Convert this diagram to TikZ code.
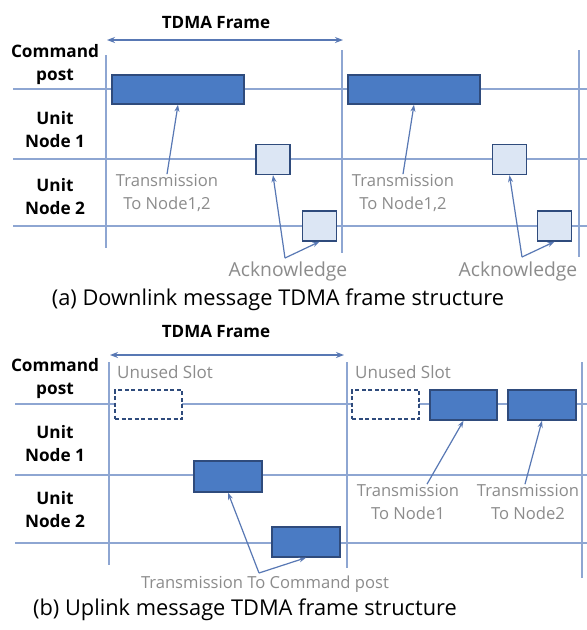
\documentclass[tikz,border=0pt]{standalone}
\usepackage{fontspec}
\setmainfont{Open Sans}
\usetikzlibrary{arrows.meta}
\definecolor{blkfill}{HTML}{4A7BC4}
\definecolor{blkdraw}{HTML}{2F4B7C}
\definecolor{sqfill}{HTML}{DCE6F4}
\definecolor{gridc}{HTML}{8EA6D2}
\definecolor{arrc}{HTML}{5878B4}
\definecolor{graytxt}{HTML}{8C8C8C}
\tikzset{
  blk/.style={draw=blkdraw, fill=blkfill, line width=1.4pt, inner sep=0pt},
  sqr/.style={draw=blkdraw, fill=sqfill, line width=1.4pt, inner sep=0pt, minimum width=34pt, minimum height=30pt},
  unused/.style={draw=blkdraw, fill=white, line width=1.3pt, dash pattern=on 4pt off 2.5pt, inner sep=0pt, minimum width=67pt, minimum height=29pt},
  rowlab/.style={font=\bfseries\fontsize{17.2}{23}\selectfont, align=center, inner sep=0pt},
  frlab/.style={font=\bfseries\fontsize{17}{20}\selectfont, inner sep=0pt},
  gtxt/.style={text=graytxt, font=\fontsize{16.6}{23}\selectfont, align=center, inner sep=0pt},
  gtxtu/.style={text=graytxt, font=\fontsize{17}{23}\selectfont, inner sep=0pt},
  ack/.style={text=graytxt, font=\fontsize{19.3}{22}\selectfont, inner sep=0pt},
  captxt/.style={font=\fontsize{21.8}{24}\selectfont, inner sep=0pt},
  gridl/.style={draw=gridc, line width=1.1pt},
  ptr/.style={draw=arrc, line width=1.2pt, -{Stealth[length=7pt,width=5pt]}},
  frarr/.style={draw=arrc, line width=1.3pt, {Stealth[length=8pt,width=6pt]}-{Stealth[length=8pt,width=6pt]}},
}
\begin{document}
\begin{tikzpicture}[x=1pt,y=-1pt]
\useasboundingbox[fill=white] (0,0) rectangle (587,630);

% ================= Panel (a) =================
\draw[gridl] (13,89) -- (587,89);
\draw[gridl] (13,159) -- (587,159);
\draw[gridl] (13,226) -- (587,226);
\draw[gridl] (106,55) -- (106,248);
\draw[gridl] (342,50) -- (342,253);
\draw[gridl] (579,50) -- (579,257);

\node[frlab] (tfa) at (216,22) {TDMA Frame};
\coordinate (fal) at (107,40);
\coordinate (far) at (343,40);
\draw[frarr] (fal) -- (far);

\node[rowlab] (cpa) at (55,65) {Command\\post};
\node[rowlab] (u1a) at (55,130) {Unit\\Node 1};
\node[rowlab] (u2a) at (55,197) {Unit\\Node 2};

\node[blk, minimum width=132pt, minimum height=29pt] (b1) at (178,89.5) {};
\node[blk, minimum width=132pt, minimum height=29pt] (b2) at (414,89.5) {};

\node[sqr] (s1) at (273,159.5) {};
\node[sqr] (s2) at (319.5,226) {};
\node[sqr] (s3) at (509.5,159.5) {};
\node[sqr] (s4) at (554.5,226) {};

\node[gtxt] (t1) at (167,193) {Transmission\\To Node1,2};
\node[gtxt] (t2) at (403,193) {Transmission\\To Node1,2};
\draw[ptr] (t1.north) -- (b1.south);
\draw[ptr] (t2.north) -- (b2.south);

\node[ack] (ack1) at (288,271) {Acknowledge};
\node[ack] (ack2) at (518,271) {Acknowledge};
\coordinate (j1) at (285,258);
\coordinate (j2) at (522,257);
\draw[ptr] (j1) -- (s1.south);
\draw[ptr] (j1) -- (s2.south);
\draw[ptr] (j2) -- (s3.south);
\draw[ptr] (j2) -- (s4.south);

\node[captxt] (capa) at (278,300) {(a) Downlink message TDMA frame structure};

% ================= Panel (b) =================
\draw[gridl] (15,404) -- (587,404);
\draw[gridl] (15,475) -- (587,475);
\draw[gridl] (15,543) -- (587,543);
\draw[gridl] (109,362) -- (109,565);
\draw[gridl] (347,362) -- (347,568);
\draw[gridl] (582,362) -- (582,578);

\node[frlab] (tfb) at (216,331) {TDMA Frame};
\coordinate (fbl) at (110,355);
\coordinate (fbr) at (344,355);
\draw[frarr] (fbl) -- (fbr);

\node[rowlab] (cpb) at (55,379) {Command\\post};
\node[rowlab] (u1b) at (55,444) {Unit\\Node 1};
\node[rowlab] (u2b) at (55,510) {Unit\\Node 2};

\node[gtxtu, anchor=west] (us1) at (117,372) {Unused Slot};
\node[gtxtu, anchor=west] (us2) at (355,372) {Unused Slot};
\node[unused] (d1) at (148.5,404.5) {};
\node[unused] (d2) at (385.5,404.5) {};

\node[blk, minimum width=67pt, minimum height=30pt] (n1) at (463.5,405) {};
\node[blk, minimum width=68pt, minimum height=30pt] (n2) at (542,405) {};

\node[gtxt] (tn1) at (408,502) {Transmission\\To Node1};
\node[gtxt] (tn2) at (528,502) {Transmission\\To Node2};
\draw[ptr] ([xshift=19pt]tn1.north) -- (n1.south);
\draw[ptr] ([xshift=-3pt]tn2.north) -- (n2.south);

\node[blk, minimum width=68pt, minimum height=31pt] (u1) at (228,476.5) {};
\node[blk, minimum width=68pt, minimum height=30pt] (u2) at (306,542) {};

\node[gtxt] (tcp) at (265,584) {Transmission To Command post};
\coordinate (j3) at (259,573);
\draw[ptr] (j3) -- (u1.south);
\draw[ptr] (j3) -- (u2.south);

\node[captxt] (capb) at (245,610) {(b) Uplink message TDMA frame structure};
\end{tikzpicture}
\end{document}
